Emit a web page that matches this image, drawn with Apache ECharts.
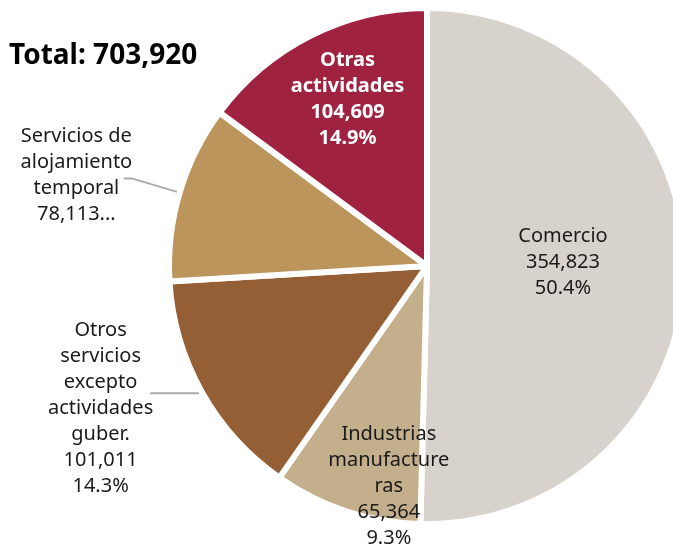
<!DOCTYPE html>
<html>
<head>
<meta charset="utf-8">
<script src="https://cdn.jsdelivr.net/npm/echarts@6/dist/echarts.min.js"></script>
<style>
  html, body { margin: 0; padding: 0; background: #fff; }
  #main { width: 673px; height: 548px; }
</style>
</head>
<body>
<div id="main"></div>
<script>
// datos
var categories = ['Comercio', 'Industrias manufactureras', 'Otros servicios excepto actividades gubernamentales', 'Servicios de alojamiento temporal', 'Otras actividades'];
var values = [354823, 65364, 101011, 78113, 104609];
var labelNames = ['Comercio', 'Industrias\nmanufacture\nras', 'Otros\nservicios\nexcepto\nactividades\nguber.', 'Servicios de\nalojamiento\ntemporal', 'Otras\nactividades'];
var colors = ['#D7D2CC', '#C4AF8D', '#955F36', '#BB955C', '#9F2241'];

var total = values.reduce(function (a, b) { return a + b; }, 0);

// desplazamientos de etiquetas
var labelShift = [[4, -5], [3, 95], [8, 15], [12, -3], [-20, -49]];

var myChart = echarts.init(document.getElementById('main'));

var data = categories.map(function (c, i) {
    var item = { name: c, value: values[i], itemStyle: { color: colors[i] } };
    if (i === 0 || i === 1) {
        item.label = { position: 'inside', color: '#1a1a1a' };
    } else if (i === 4) {
        item.label = { position: 'inside', color: '#fff', fontWeight: 'bold' };
    } else {
        item.label = { position: 'outside', color: '#1a1a1a', overflow: 'none' };
    }
    return item;
});

var option = {
    title: {
        text: 'Total: ' + total.toLocaleString('en-US'),
        left: 4,
        top: 37,
        textStyle: { fontFamily: 'Noto Sans', fontSize: 28, fontWeight: 'bold', color: '#000' }
    },
    series: [{
        type: 'pie',
        center: [427, 266],
        radius: 258,
        startAngle: 90,
        clockwise: true,
        percentPrecision: 1,
        animation: false,
        itemStyle: { borderColor: '#fff', borderWidth: 6 },
        label: {
            fontFamily: 'Noto Sans',
            fontSize: 20,
            lineHeight: 26,
            formatter: function (p) {
                var v = p.value.toLocaleString('en-US');
                var txt = p.dataIndex === 3
                    ? labelNames[3] + '\n' + v + '...'
                    : labelNames[p.dataIndex] + '\n' + v + '\n' + p.percent.toFixed(1) + '%';
                return txt.split('\n').map(function (s) { return '{c|' + s + '}'; }).join('\n');
            },
            rich: { c: { align: 'center' } }
        },
        labelLine: { length: 50, length2: 8, lineStyle: { color: '#aaa', width: 2 } },
        labelLayout: function (p) {
            var s = labelShift[p.dataIndex];
            return { dx: s[0], dy: s[1] };
        },
        data: data
    }]
};
// lineas de etiqueta por sector
option.series[0].data[2].labelLine = { length: 2, length2: 50 };

myChart.setOption(option);
</script>
</body>
</html>
